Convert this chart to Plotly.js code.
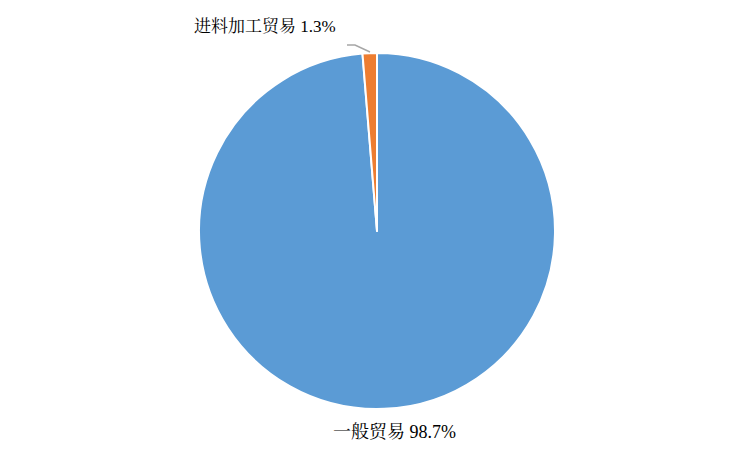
<!DOCTYPE html>
<html>
<head>
<meta charset="utf-8">
<script src="https://cdn.plot.ly/plotly-3.0.1.min.js"></script>
<style>html,body{margin:0;padding:0;background:#fff;}#chart{width:754px;height:462px;}</style>
</head>
<body>
<div id="chart"></div>
<script>
var categories = ["一般贸易", "进料加工贸易"];
var shares = [98.7, 1.3];
var colors = ["#5B9BD5", "#ED7D31"];

var fontFam = "'Liberation Serif', 'Times New Roman', 'Noto Serif CJK SC', 'Noto Sans CJK SC', serif";

var trace = {
  type: "pie",
  labels: categories,
  values: shares,
  sort: false,
  direction: "clockwise",
  rotation: 0,
  textinfo: "none",
  hoverinfo: "label+percent",
  marker: {colors: colors, line: {color: "#ffffff", width: 2}},
  showlegend: false
};

function lbl(i) { return categories[i] + " " + shares[i].toFixed(1) + "%"; }

var layout = {
  width: 754, height: 462,
  margin: {l: 0, r: 0, t: 53, b: 53},
  paper_bgcolor: "#ffffff",
  font: {family: fontFam, size: 18, color: "#000000"},
  annotations: [
    {text: lbl(0), xref: "paper", yref: "paper", x: 394/754, y: (409-432)/356, showarrow: false, xanchor: "center", yanchor: "middle", font: {family: fontFam, size: 18, color: "#000000"}},
    {text: lbl(1), xref: "paper", yref: "paper", x: 265/754, y: (409-27)/356, showarrow: false, xanchor: "center", yanchor: "middle", font: {family: fontFam, size: 17, color: "#000000"}}
  ],
  shapes: [
    {type: "path", xref: "paper", yref: "paper",
     path: "M " + (347/754) + "," + ((409-45)/356) + " L " + (355/754) + "," + ((409-45)/356) + " L " + (370/754) + "," + ((409-52)/356),
     line: {color: "#A6A6A6", width: 1.5}}
  ]
};

Plotly.newPlot("chart", [trace], layout, {displayModeBar: false, staticPlot: true});
</script>
</body>
</html>
